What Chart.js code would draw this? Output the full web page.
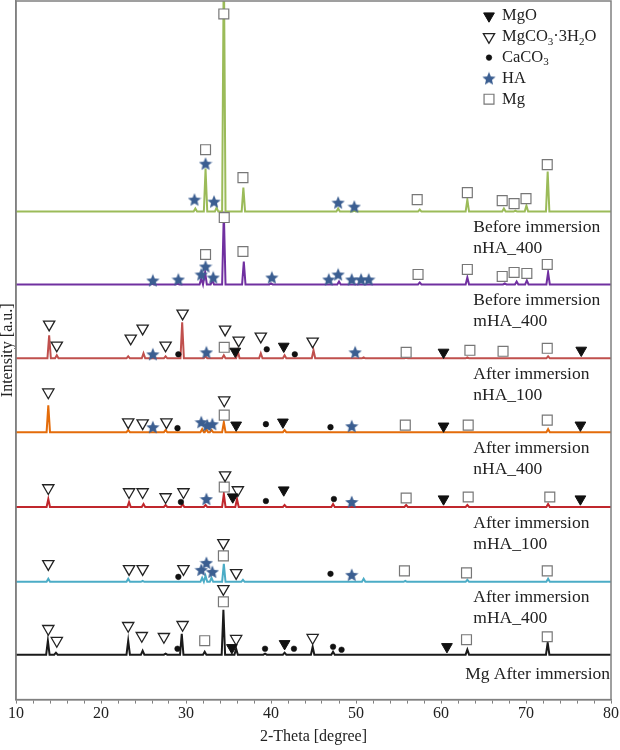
<!DOCTYPE html>
<html>
<head>
<meta charset="utf-8">
<script src="https://cdn.jsdelivr.net/npm/chart.js@4.4.0/dist/chart.umd.min.js"></script>
<style>
  html, body { margin: 0; padding: 0; background: #fff; }
</style>
</head>
<body>
<canvas id="mycanvas" width="620" height="750"></canvas>
<script>
// samples, top to bottom
var sampleLine1 = ["Before immersion", "Before immersion", "After immersion", "After immersion", "After immersion", "After immersion", "Mg After immersion"];
var sampleLine2 = ["nHA_400", "mHA_400", "nHA_100", "nHA_400", "mHA_100", "mHA_400", ""];
var offsets = [489, 416, 342, 268, 193, 118, 45];

// peaks: [2-theta, intensity a.u.]
var peaksGreen  = [[31.1,3],[32.3,43],[33.6,4],[34.45,260],[36.75,24],[47.9,3],[49.8,1],[57.5,2],[63.1,12],[67.4,3],[68.75,1],[70.05,6],[72.55,40]];
var peaksPurple = [[26.0,1],[29.0,1],[31.8,6],[32.25,12],[33.1,4],[34.45,73],[36.8,23],[40.0,1],[48.0,3],[57.5,2],[63.1,7],[67.5,1],[68.9,3],[70.1,4],[72.6,12]];
var peaksSalmon = [[13.9,23],[14.8,3],[23.2,2],[25.0,5],[27.6,2],[29.55,36],[32.3,2],[34.45,3],[36.1,7],[38.8,5],[41.6,3],[45.0,8],[50.9,1],[55.9,1],[63.1,1],[72.6,2]];
var peaksOrange = [[13.8,27],[23.2,2],[27.6,2],[31.9,3],[32.4,3],[33.0,2],[34.45,10],[41.6,2],[72.6,3]];
var peaksRed    = [[13.8,8],[23.3,5],[25.0,3],[27.6,2],[29.6,3],[32.3,2],[34.45,13],[36.0,8],[41.6,2],[47.3,3],[55.9,2],[63.1,2],[72.6,3]];
var peaksCyan   = [[13.8,3],[23.2,3],[24.9,1],[31.9,4],[32.3,6],[33.0,4],[34.45,18],[36.7,2],[50.9,3],[55.8,1],[63.1,2],[72.6,3]];
var peaksBlack  = [[13.75,14],[14.7,2],[23.2,14],[24.9,4],[27.6,1],[29.5,21],[32.2,3],[34.4,45],[35.9,6],[39.3,1],[41.6,2],[44.9,8],[47.3,3],[63.1,5],[72.55,12]];

// phase marks: [2-theta, height above the pattern, phase]
var marksGreen  = [[34.45,198,"Mg"],[32.3,62,"Mg"],[32.3,48,"HA"],[31.0,12,"HA"],[33.3,10,"HA"],[36.7,34,"Mg"],[47.9,9,"HA"],[49.8,5,"HA"],[57.2,12,"Mg"],[63.1,19,"Mg"],[67.2,11,"Mg"],[68.6,8,"Mg"],[70.0,13,"Mg"],[72.5,47,"Mg"]];
var marksPurple = [[34.5,67,"Mg"],[32.3,30,"Mg"],[32.3,18,"HA"],[31.8,10,"HA"],[33.2,7,"HA"],[36.7,33,"Mg"],[40.1,7,"HA"],[26.1,4,"HA"],[29.1,5,"HA"],[46.8,5,"HA"],[47.9,10,"HA"],[49.5,5,"HA"],[50.6,5,"HA"],[51.5,5,"HA"],[57.3,10,"Mg"],[63.1,15,"Mg"],[67.2,8,"Mg"],[68.6,12,"Mg"],[70.1,11,"Mg"],[72.5,20,"Mg"]];
var marksSalmon = [[13.9,34,"Nes"],[14.8,13,"Nes"],[23.5,20,"Nes"],[24.9,30,"Nes"],[26.1,4,"HA"],[27.6,13,"Nes"],[29.1,4,"CaCO3"],[29.6,45,"Nes"],[32.4,6,"HA"],[34.6,29,"Nes"],[34.5,11,"Mg"],[35.8,7,"MgO"],[36.2,18,"Nes"],[38.8,22,"Nes"],[39.5,9,"CaCO3"],[41.5,12,"MgO"],[42.8,4,"CaCO3"],[44.9,17,"Nes"],[49.9,6,"HA"],[55.9,6,"Mg"],[60.3,6,"MgO"],[63.4,8,"Mg"],[67.3,7,"Mg"],[72.5,10,"Mg"],[76.5,8,"MgO"]];
var marksOrange = [[13.8,40,"Nes"],[23.2,10,"Nes"],[24.9,9,"Nes"],[26.1,5,"HA"],[27.7,10,"Nes"],[29.0,4,"CaCO3"],[31.8,10,"HA"],[32.5,7,"HA"],[33.1,8,"HA"],[34.5,17,"Mg"],[34.5,32,"Nes"],[35.9,7,"MgO"],[39.4,8,"CaCO3"],[41.4,10,"MgO"],[47.0,5,"CaCO3"],[49.5,6,"HA"],[55.8,7,"Mg"],[60.3,6,"MgO"],[63.2,7,"Mg"],[72.5,12,"Mg"],[76.4,7,"MgO"]];
var marksRed    = [[13.8,19,"Nes"],[23.3,15,"Nes"],[24.9,15,"Nes"],[27.6,10,"Nes"],[29.4,5,"CaCO3"],[29.7,15,"Nes"],[32.4,8,"HA"],[34.6,32,"Nes"],[34.5,20,"Mg"],[35.5,10,"MgO"],[36.1,17,"Nes"],[39.4,6,"CaCO3"],[41.5,17,"MgO"],[47.4,8,"CaCO3"],[49.5,5,"HA"],[55.9,9,"Mg"],[60.3,8,"MgO"],[63.2,10,"Mg"],[72.8,10,"Mg"],[76.4,8,"MgO"]];
var marksCyan   = [[13.8,18,"Nes"],[23.3,13,"Nes"],[24.9,13,"Nes"],[29.1,5,"CaCO3"],[29.7,13,"Nes"],[31.8,12,"HA"],[32.4,19,"HA"],[33.1,10,"HA"],[34.4,26,"Mg"],[34.4,39,"Nes"],[35.9,9,"Nes"],[47.0,8,"CaCO3"],[49.5,7,"HA"],[55.7,11,"Mg"],[63.0,9,"Mg"],[72.5,11,"Mg"]];
var marksBlack  = [[13.8,26,"Nes"],[14.8,14,"Nes"],[23.2,29,"Nes"],[24.8,19,"Nes"],[27.4,18,"Nes"],[29.0,6,"CaCO3"],[29.6,30,"Nes"],[32.2,14,"Mg"],[34.4,66,"Nes"],[34.4,53,"Mg"],[35.4,7,"MgO"],[35.9,16,"Nes"],[39.3,6,"CaCO3"],[41.6,11,"MgO"],[42.7,6,"CaCO3"],[44.9,17,"Nes"],[47.3,8,"CaCO3"],[48.3,5,"CaCO3"],[60.7,8,"MgO"],[63.0,15,"Mg"],[72.5,18,"Mg"]];

var phases = ["MgO", "Nes", "CaCO3", "HA", "Mg"];

var allPeaks = [peaksGreen, peaksPurple, peaksSalmon, peaksOrange, peaksRed, peaksCyan, peaksBlack];
var allMarks = [marksGreen, marksPurple, marksSalmon, marksOrange, marksRed, marksCyan, marksBlack];
var lineColors = ["#9bbb59", "#7030a0", "#c0504d", "#e46c0a", "#c0272d", "#4bacc6", "#1a1a1a"];

var serif = "'Liberation Serif', 'Times New Roman', serif";

function makeStar(size, color) {
  var c = document.createElement("canvas");
  c.width = size; c.height = size;
  var g = c.getContext("2d");
  var R = size / 2, r = R * 0.45;
  g.beginPath();
  for (var k = 0; k < 10; k++) {
    var a = -Math.PI / 2 + k * Math.PI / 5;
    var rr = k % 2 === 0 ? R : r;
    g.lineTo(R + rr * Math.cos(a), R + 0.6 + rr * Math.sin(a));
  }
  g.closePath();
  g.fillStyle = color;
  g.fill();
  return c;
}
var starImg = makeStar(14, "#3b5e91");

var symbolStyle = {
  MgO:   { pointStyle: "triangle", rotation: 180, radius: 6.2, bg: "#111", border: "#111", bw: 1 },
  Nes:   { pointStyle: "triangle", rotation: 180, radius: 6.5, bg: "#fff", border: "#222", bw: 1.3 },
  CaCO3: { pointStyle: "circle", rotation: 0, radius: 2.8, bg: "#111", border: "#111", bw: 0.5 },
  HA:    { pointStyle: starImg, rotation: 0, radius: 7, bg: "#3b5e91", border: "#3b5e91", bw: 0 },
  Mg:    { pointStyle: "rect", rotation: 0, radius: 7, bg: "#fff", border: "#777", bw: 1.2 }
};

function profile(peaks, base) {
  var pts = [{ x: 10, y: base }];
  peaks.forEach(function (p) {
    pts.push({ x: p[0] - 0.2, y: base }, { x: p[0], y: base + p[1] }, { x: p[0] + 0.2, y: base });
  });
  pts.push({ x: 80, y: base });
  return pts;
}

var datasets = [];
phases.forEach(function (ph) {
  var s = symbolStyle[ph];
  var pts = [];
  allMarks.forEach(function (marks, i) {
    marks.forEach(function (m) {
      if (m[2] === ph) pts.push({ x: m[0], y: offsets[i] + m[1] });
    });
  });
  datasets.push({
    type: "scatter", label: ph, data: pts, order: 0, clip: false,
    pointStyle: s.pointStyle, pointRotation: s.rotation, pointRadius: s.radius,
    pointBackgroundColor: s.bg, pointBorderColor: s.border, pointBorderWidth: s.bw,
    showLine: false
  });
});
allPeaks.forEach(function (pk, i) {
  datasets.push({
    type: "line", label: sampleLine1[i] + " " + sampleLine2[i], data: profile(pk, offsets[i]),
    borderColor: lineColors[i], borderWidth: 2, pointRadius: 0, tension: 0, fill: false, order: 1
  });
});

var framePlugin = {
  id: "frame",
  afterDraw: function (chart) {
    var ctx = chart.ctx, a = chart.chartArea;
    ctx.save();
    ctx.strokeStyle = "#808080";
    ctx.lineWidth = 1.5;
    ctx.strokeRect(a.left, a.top, a.right - a.left, a.bottom - a.top);
    ctx.restore();
  }
};

var labelPlugin = {
  id: "sampleLabels",
  afterDatasetsDraw: function (chart) {
    var ctx = chart.ctx, xs = chart.scales.x, ys = chart.scales.y;
    ctx.save();
    ctx.fillStyle = "#222";
    ctx.font = "17.5px " + serif;
    ctx.textBaseline = "middle";
    for (var i = 0; i < sampleLine1.length; i++) {
      var yb = ys.getPixelForValue(offsets[i]);
      if (sampleLine2[i]) {
        ctx.textAlign = "left";
        var xl = xs.getPixelForValue(63.8);
        ctx.fillText(sampleLine1[i], xl, yb + 16);
        ctx.fillText(sampleLine2[i], xl, yb + 37);
      } else {
        ctx.textAlign = "right";
        ctx.fillText(sampleLine1[i], chart.chartArea.right - 1, yb + 20);
      }
    }
    ctx.restore();
  }
};

var legendRows = [
  { ph: "MgO", parts: [["MgO", 0]] },
  { ph: "Nes", parts: [["MgCO", 0], ["3", 1], ["\u00b73H", 0], ["2", 1], ["O", 0]] },
  { ph: "CaCO3", parts: [["CaCO", 0], ["3", 1]] },
  { ph: "HA", parts: [["HA", 0]] },
  { ph: "Mg", parts: [["Mg", 0]] }
];

var legendPlugin = {
  id: "phaseLegend",
  afterDraw: function (chart) {
    var ctx = chart.ctx, a = chart.chartArea;
    var sx = a.right - 122, tx = a.right - 109;
    ctx.save();
    legendRows.forEach(function (row, k) {
      var y = a.top + 15 + k * 20.8;
      var s = symbolStyle[row.ph];
      ctx.fillStyle = s.bg;
      ctx.strokeStyle = s.border;
      ctx.lineWidth = s.bw;
      Chart.helpers.drawPoint(ctx, { pointStyle: s.pointStyle, rotation: s.rotation, radius: s.radius, borderWidth: s.bw }, sx, y);
      var x = tx;
      ctx.fillStyle = "#222";
      ctx.textBaseline = "middle";
      ctx.textAlign = "left";
      row.parts.forEach(function (p) {
        ctx.font = (p[1] ? "11px " : "16.5px ") + serif;
        ctx.fillText(p[0], x, y + (p[1] ? 5 : 0));
        x += ctx.measureText(p[0]).width;
      });
    });
    ctx.restore();
  }
};

var ctx = document.getElementById("mycanvas");
var xrdChart = new Chart(ctx, {
  data: { datasets: datasets },
  options: {
    responsive: false,
    animation: false,
    devicePixelRatio: 1,
    layout: { autoPadding: false, padding: { top: 1, right: 0, left: 0, bottom: 4 } },
    plugins: { legend: { display: false }, tooltip: { enabled: false } },
    scales: {
      x: {
        type: "linear", min: 10, max: 80,
        ticks: {
          stepSize: 2, autoSkip: false, maxRotation: 0, padding: 1, color: "#222",
          font: { family: serif, size: 16 },
          callback: function (v) { return v % 10 === 0 ? v : ""; }
        },
        grid: { display: true, drawOnChartArea: false, drawTicks: true, tickLength: 4, color: "#808080" },
        border: { color: "#808080", width: 1.5 },
        title: { display: true, text: "2-Theta [degree]", color: "#222", font: { family: serif, size: 16 }, padding: { top: 2, bottom: 0 } }
      },
      y: {
        type: "linear", min: 0, max: 700,
        ticks: { display: false },
        grid: { display: false, drawTicks: false },
        border: { color: "#808080", width: 1.5 },
        title: { display: true, text: "Intensity [a.u.]", color: "#222", font: { family: serif, size: 16, lineHeight: 1 }, padding: { top: 0, bottom: 0 } }
      }
    }
  },
  plugins: [framePlugin, labelPlugin, legendPlugin]
});
</script>
</body>
</html>
